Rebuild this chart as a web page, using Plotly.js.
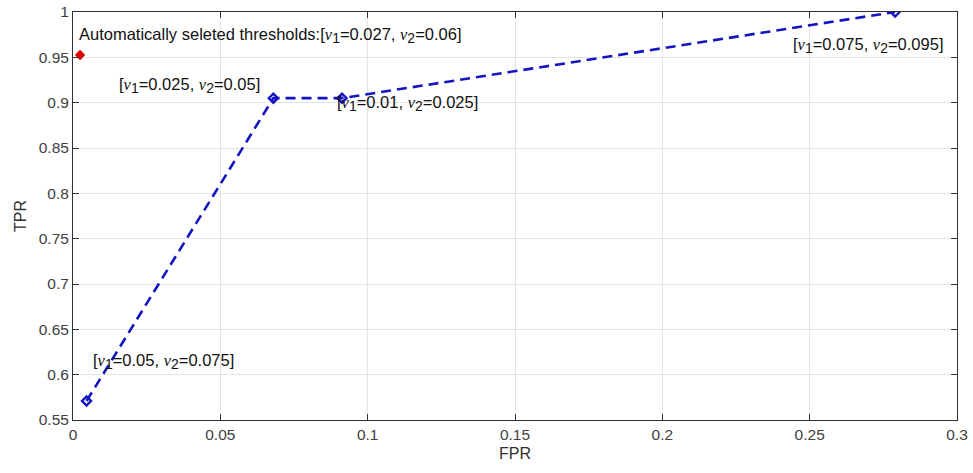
<!DOCTYPE html>
<html>
<head>
<meta charset="utf-8">
<script src="https://cdn.plot.ly/plotly-3.0.1.min.js"></script>
<style>html,body{margin:0;padding:0;background:#fff;}</style>
</head>
<body>
<div id="chart" style="width:973px;height:473px;"></div>
<script>
// Data
const fpr = [0.0046, 0.068, 0.0913, 0.279];
const tpr = [0.571, 0.905, 0.905, 1.0];
const nu = '<span style="font-family:Liberation Serif, Times New Roman, serif"><i>ν</i></span>';
const sub = s => '<sub><span style="font-size:14px">' + s + '</span></sub>';
const pointLabels = [
  "[" + nu + sub("1") + "=0.05, " + nu + sub("2") + "=0.075]",
  "[" + nu + sub("1") + "=0.025, " + nu + sub("2") + "=0.05]",
  "[" + nu + sub("1") + "=0.01, " + nu + sub("2") + "=0.025]",
  "[" + nu + sub("1") + "=0.075, " + nu + sub("2") + "=0.095]"
];
const autoFpr = [0.0024];
const autoTpr = [0.9525];
const autoLabel = "Automatically seleted thresholds:[" + nu + sub("1") + "=0.027, " + nu + sub("2") + "=0.06]";
const xTicks = [0, 0.05, 0.1, 0.15, 0.2, 0.25, 0.3];
const yTicks = [0.55, 0.6, 0.65, 0.7, 0.75, 0.8, 0.85, 0.9, 0.95, 1];

const FONT = 'Liberation Sans, Arial, sans-serif';
const labelPlacement = [
  {xanchor: 'left', xshift: 4, yshift: 39},
  {xanchor: 'right', xshift: -11, yshift: 13},
  {xanchor: 'left', xshift: -7, yshift: -5},
  {xanchor: 'right', xshift: 50, yshift: -33}
];

const annotations = pointLabels.map((t, i) => Object.assign({
  x: fpr[i], y: tpr[i], xref: 'x', yref: 'y', text: t, showarrow: false,
  yanchor: 'middle', font: {family: FONT, size: 16.5, color: '#111'}
}, labelPlacement[i]));
annotations.push({
  x: autoFpr[0], y: autoTpr[0], xref: 'x', yref: 'y', text: autoLabel, showarrow: false,
  xanchor: 'left', yanchor: 'middle', xshift: -3, yshift: 20,
  font: {family: FONT, size: 16.5, color: '#111'}
});

const traces = [
  {
    x: fpr, y: tpr, type: 'scatter', mode: 'lines+markers',
    line: {color: '#1414C0', width: 2.6, dash: '10px,6px'},
    marker: {symbol: 'diamond-open', size: 7, color: '#1414C0', line: {width: 2.4, color: '#1414C0'}},
    showlegend: false, hoverinfo: 'skip'
  },
  {
    x: autoFpr, y: autoTpr, type: 'scatter', mode: 'markers',
    marker: {symbol: 'diamond', size: 8, color: '#E00000'},
    showlegend: false, hoverinfo: 'skip'
  }
];

const axisCommon = {
  showline: true, mirror: 'ticks', linecolor: '#303030', linewidth: 1,
  ticks: 'inside', ticklen: 6, tickcolor: '#303030',
  showgrid: true, gridcolor: '#e4e4e4', gridwidth: 1, zeroline: false,
  tickfont: {family: FONT, size: 15.5, color: '#404040'}
};

const layout = {
  width: 973, height: 473,
  margin: {l: 73, r: 16, t: 12, b: 53},
  paper_bgcolor: '#fff', plot_bgcolor: '#fff',
  xaxis: Object.assign({}, axisCommon, {
    range: [0, 0.3], tickvals: xTicks, ticktext: xTicks.map(String),
    title: {text: 'FPR', font: {family: FONT, size: 16, color: '#303030'}, standoff: 6}
  }),
  yaxis: Object.assign({}, axisCommon, {
    range: [0.55, 1], tickvals: yTicks, ticktext: yTicks.map(String),
    title: {text: 'TPR', font: {family: FONT, size: 16, color: '#303030'}, standoff: 8}
  }),
  annotations: annotations
};

Plotly.newPlot('chart', traces, layout, {staticPlot: true, displayModeBar: false});
</script>
</body>
</html>
